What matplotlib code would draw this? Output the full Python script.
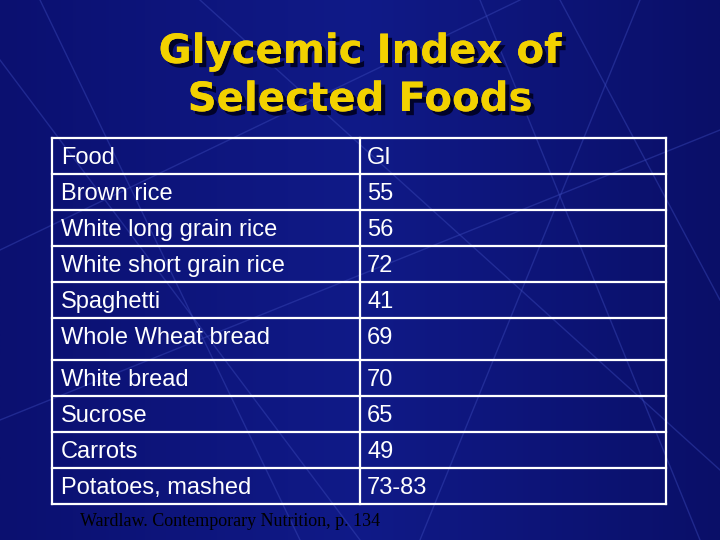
import matplotlib.pyplot as plt
import matplotlib.patheffects as pe
import numpy as np

foods = ["Food", "Brown rice", "White long grain rice", "White short grain rice",
         "Spaghetti", "Whole Wheat bread", "White bread", "Sucrose", "Carrots",
         "Potatoes, mashed"]
gi = ["GI", "55", "56", "72", "41", "69", "70", "65", "49", "73-83"]
row_edges = [138, 174, 210, 246, 282, 318, 360, 396, 432, 468, 504]

fig = plt.figure(figsize=(7.2, 5.4), dpi=100)
ax = fig.add_axes([0, 0, 1, 1])
ax.set_xlim(0, 720)
ax.set_ylim(540, 0)
ax.axis('off')

# background: dark blue gradient with faint diagonal streaks
grad = np.linspace(0, 1, 256).reshape(1, -1)
cmap = plt.matplotlib.colors.LinearSegmentedColormap.from_list('bg', ['#0b1070', '#101a88', '#0a0f68'])
ax.imshow(grad, extent=[0, 720, 540, 0], aspect='auto', cmap=cmap, zorder=0)
streaks = [((0, 60), (360, 540)), ((40, 0), (300, 540)), ((560, 0), (720, 300)),
           ((640, 0), (420, 540)), ((0, 420), (720, 130)), ((200, 0), (720, 470)),
           ((480, 0), (700, 540)), ((0, 250), (520, 0))]
for (x0, y0), (x1, y1) in streaks:
    ax.plot([x0, x1], [y0, y1], color='#3a48b8', lw=1.0, alpha=0.45, zorder=1)

shadow = [pe.withSimplePatchShadow(offset=(3, -3), shadow_rgbFace='#000020', alpha=0.9), pe.Normal()]
for text, y in [("Glycemic Index of", 52), ("Selected Foods", 100)]:
    ax.text(360, y, text, color='#f2d100', fontsize=29, fontweight='bold',
            family='DejaVu Sans', ha='center', va='center', path_effects=shadow, zorder=3)

# table grid
left, mid, right = 52, 360, 666
for y in row_edges:
    ax.plot([left, right], [y, y], color='white', lw=1.6, zorder=2)
for x in [left, mid, right]:
    ax.plot([x, x], [row_edges[0], row_edges[-1]], color='white', lw=1.6, zorder=2)

for i, (f, g) in enumerate(zip(foods, gi)):
    y = row_edges[i] + 20
    ax.text(61, y, f, color='white', fontsize=17, family='Liberation Sans', va='center', zorder=3)
    ax.text(367, y, g, color='white', fontsize=17, family='Liberation Sans', va='center', zorder=3)

ax.text(80, 521, "Wardlaw. Contemporary Nutrition, p. 134", color='black', fontsize=13,
        family='Liberation Serif', va='center', zorder=4)

fig.savefig('out.png', dpi=100)
